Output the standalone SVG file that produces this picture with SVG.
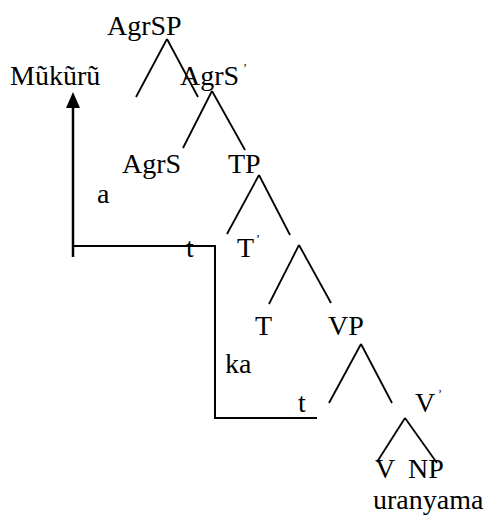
<svg xmlns="http://www.w3.org/2000/svg" width="489" height="517" viewBox="0 0 489 517">
<style>
text{font-family:"Liberation Serif","Times New Roman",serif;font-size:28px;fill:#000}
.pr{font-size:12px}
.br{stroke:#000;stroke-width:1.8;fill:none}
.mv{stroke:#000;stroke-width:2;fill:none}
</style>
<rect width="489" height="517" fill="#fff"/>
<g id="connectors">
<line class="br" x1="167" y1="39" x2="136" y2="97"/>
<line class="br" x1="167" y1="39" x2="198" y2="97"/>
<line class="br" x1="212" y1="91" x2="183" y2="148"/>
<line class="br" x1="212" y1="91" x2="245" y2="150"/>
<line class="br" x1="259" y1="175" x2="227" y2="234"/>
<line class="br" x1="259" y1="175" x2="290" y2="235"/>
<line class="br" x1="299" y1="245" x2="269" y2="304"/>
<line class="br" x1="299" y1="245" x2="331" y2="303"/>
<line class="br" x1="361" y1="344" x2="329" y2="403"/>
<line class="br" x1="361" y1="344" x2="392" y2="403"/>
<line class="br" x1="405" y1="418" x2="377" y2="462"/>
<line class="br" x1="405" y1="418" x2="437" y2="463"/>
<line x1="73" y1="257" x2="73" y2="106" stroke="#000" stroke-width="2.5"/>
<polygon points="73,92 66,108 80,108" fill="#000"/>
<polyline class="mv" points="73,246 215,246 215,418 317,418"/>
</g>
<g id="AgrSP"><text x="107" y="35">AgrSP</text></g>
<g id="Mukuru"><text x="10" y="85">Mũkũrũ</text></g>
<g id="AgrS-bar"><text x="180" y="85">AgrS</text><text class="pr" x="243" y="72">’</text></g>
<g id="AgrS"><text x="122" y="173">AgrS</text></g>
<g id="TP"><text x="228" y="173">TP</text></g>
<g id="a"><text x="97" y="203">a</text></g>
<g id="t1"><text x="186" y="257">t</text></g>
<g id="T-bar"><text x="237" y="257">T</text><text class="pr" x="256" y="243">’</text></g>
<g id="T"><text x="255" y="335">T</text></g>
<g id="VP"><text x="328" y="335">VP</text></g>
<g id="ka"><text x="225" y="373">ka</text></g>
<g id="t2"><text x="298" y="412">t</text></g>
<g id="V-bar"><text x="415" y="412">V</text><text class="pr" x="438" y="398">’</text></g>
<g id="V"><text x="375" y="478">V</text></g>
<g id="NP"><text x="408" y="478">NP</text></g>
<g id="uranyama"><text x="373" y="509">uranyama</text></g>
</svg>
